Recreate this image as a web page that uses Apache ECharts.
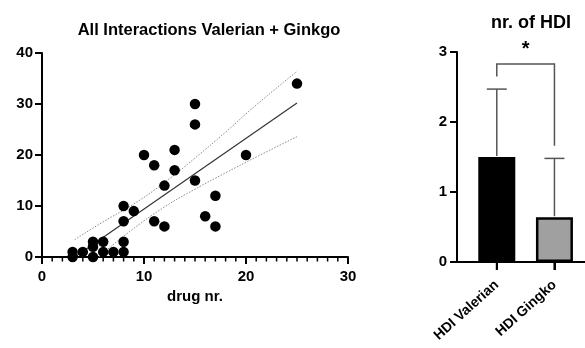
<!DOCTYPE html>
<html><head><meta charset="utf-8">
<script src="https://cdn.jsdelivr.net/npm/echarts@6/dist/echarts.min.js"></script>
<style>html,body{margin:0;padding:0;background:#fff}#c{width:585px;height:348px}</style>
</head><body><div id="c"></div>
<script>
// Scatter data (drug nr., interactions)
const drugNr = [3,3,4,5,5,5,6,6,7,8,8,8,8,9,10,11,11,12,12,13,13,15,15,15,16,17,17,20,25];
const interactions = [0,1,1,0,2,3,3,1,1,1,3,7,10,9,20,18,7,14,6,21,17,30,26,15,8,12,6,20,34];
// Regression line and confidence band
const fitX = [3, 25];
const fitY = [-0.3, 30.2];
const upperX = [3.2, 6, 9, 12, 15, 18, 21, 25];
const upperY = [3.4, 6.9, 10.4, 14.6, 19.4, 24.5, 29.8, 36.4];
const lowerX = [5.6, 6, 9, 12, 15, 18, 21, 25];
const lowerY = [0, 0.8, 5.6, 9.8, 13.3, 16.5, 19.6, 23.6];
// Axis tick values
const scatterXTicks = [0,1,2,3,4,5,6,7,8,9,10,11,12,13,14,15,16,17,18,19,20,21,22,23,24,25,26,27,28,29,30];
const scatterYTicks = [0, 10, 20, 30, 40];
const barYTicks = [0, 1, 2, 3];
// Bar data
const categories = ['HDI Valerian', 'HDI Gingko'];
const means = [1.5, 0.64];
const sds = [0.97, 0.84];
const barColors = ['#000000', '#a0a0a0'];
const bracketLevels = [2.65, 2.83, 1.66];
const starLevel = 3.03;

const FONT = 'Liberation Sans, Arial, sans-serif';
const zip = (a, b) => a.map((v, i) => [v, b[i]]);
const labelStyle = {fontFamily: FONT, fontWeight: 'bold', fontSize: 15, color: '#000'};
const tickStyle = (len) => ({show: true, length: len, lineStyle: {color: '#000', width: 2}});

// ticks placed through the axis scales (drawn on top so they are never hidden)
function tickSeries(gridIdx, values, dir, lenFn, widthFn) {
  const xMin = gridIdx === 0 ? 0 : -0.69;
  return {
    type: 'custom', xAxisIndex: gridIdx, yAxisIndex: gridIdx, z: 10, silent: true, clip: false,
    data: values.map(v => [v]),
    renderItem: (params, api) => {
      const v = api.value(0);
      const p = dir === 'x' ? api.coord([v, 0]) : api.coord([xMin, v]);
      const len = lenFn(v);
      const shape = dir === 'x'
        ? {x1: p[0], y1: p[1], x2: p[0], y2: p[1] + len}
        : {x1: p[0] - len, y1: p[1], x2: p[0], y2: p[1]};
      return {type: 'line', shape: shape, style: {stroke: '#000', lineWidth: widthFn(v)}};
    }
  };
}

const chart = echarts.init(document.getElementById('c'));
chart.setOption({
  animation: false,
  title: [
    {text: 'All Interactions Valerian + Ginkgo', left: 204, top: 17, textAlign: 'center',
     textStyle: {fontFamily: FONT, fontWeight: 'bold', fontSize: 16.5, color: '#000'}},
    {text: 'nr. of HDI', left: 526, top: 9, textAlign: 'center',
     textStyle: {fontFamily: FONT, fontWeight: 'bold', fontSize: 18, color: '#000'}}
  ],
  grid: [
    {left: 42, right: 237, top: 53, bottom: 91},
    {left: 457, right: 0, top: 52, bottom: 86}
  ],
  xAxis: [
    {gridIndex: 0, type: 'value', min: 0, max: 30, interval: 10,
     name: 'drug nr.', nameLocation: 'middle', nameGap: 31,
     nameTextStyle: {fontFamily: FONT, fontWeight: 'bold', fontSize: 15, color: '#000'},
     axisLine: {show: true, lineStyle: {color: '#000', width: 2}},
     axisTick: tickStyle(7),
     axisLabel: Object.assign({margin: 12}, labelStyle),
     splitLine: {show: false}},
    {gridIndex: 1, type: 'value', min: -0.69, max: 1.53,
     axisLine: {show: true, onZero: false, lineStyle: {color: '#000', width: 2}},
     axisTick: Object.assign(tickStyle(8), {customValues: [0, 1]}),
     axisLabel: {fontFamily: FONT, fontWeight: 'bold', fontSize: 14, color: '#000', rotate: 42, margin: 21,
                 customValues: [0, 1], formatter: v => categories[Math.round(v)] || ''},
     splitLine: {show: false}}
  ],
  yAxis: [
    {gridIndex: 0, type: 'value', min: 0, max: 40, interval: 10,
     axisLine: {show: true, lineStyle: {color: '#000', width: 2}},
     axisTick: tickStyle(7),
     axisLabel: Object.assign({margin: 9}, labelStyle),
     splitLine: {show: false}},
    {gridIndex: 1, type: 'value', min: 0, max: 3, interval: 1,
     axisLine: {show: true, onZero: false, lineStyle: {color: '#000', width: 2}},
     axisTick: tickStyle(7),
     axisLabel: Object.assign({margin: 10}, labelStyle),
     splitLine: {show: false}}
  ],
  series: [
    tickSeries(0, scatterXTicks, 'x', v => (v % 10 === 0 ? 7 : 4.5), v => (v % 10 === 0 ? 2 : 1.5)),
    tickSeries(0, scatterYTicks, 'y', () => 7, () => 2),
    tickSeries(1, barYTicks, 'y', () => 7, () => 2),
    tickSeries(1, [0, 1], 'x', () => 8, () => 2),
    {type: 'line', xAxisIndex: 0, yAxisIndex: 0, data: zip(upperX, upperY), smooth: true,
     symbol: 'none', lineStyle: {color: '#8a8a8a', width: 1, type: [1.5, 1.5]}, z: 3},
    {type: 'line', xAxisIndex: 0, yAxisIndex: 0, data: zip(lowerX, lowerY), smooth: true,
     symbol: 'none', lineStyle: {color: '#8a8a8a', width: 1, type: [1.5, 1.5]}, z: 3},
    {type: 'line', xAxisIndex: 0, yAxisIndex: 0, data: zip(fitX, fitY),
     symbol: 'none', lineStyle: {color: '#333', width: 1.2}, z: 4},
    {type: 'scatter', xAxisIndex: 0, yAxisIndex: 0, data: zip(drugNr, interactions),
     symbol: 'circle', symbolSize: 10.5, itemStyle: {color: '#000', opacity: 1}, z: 5},
    {type: 'bar', xAxisIndex: 1, yAxisIndex: 1, barWidth: 37,
     data: means.map((m, i) => ({value: [i, m], itemStyle: {color: barColors[i]}})),
     itemStyle: {borderColor: '#000', borderWidth: 2.5}, z: 3},
    {type: 'custom', xAxisIndex: 1, yAxisIndex: 1, z: 4,
     data: means.map((m, i) => [i, m, m + sds[i]]),
     renderItem: (params, api) => {
       const lo = api.coord([api.value(0), api.value(1)]);
       const hi = api.coord([api.value(0), api.value(2)]);
       const s = {stroke: '#555', lineWidth: 1.5};
       return {type: 'group', children: [
         {type: 'line', shape: {x1: hi[0], y1: lo[1] - 1, x2: hi[0], y2: hi[1]}, style: s},
         {type: 'line', shape: {x1: hi[0] - 10, y1: hi[1], x2: hi[0] + 10, y2: hi[1]}, style: s}
       ]};
     }},
    {type: 'custom', xAxisIndex: 1, yAxisIndex: 1, z: 4,
     data: [[0, 1]],
     renderItem: (params, api) => {
       const a = api.coord([api.value(0), bracketLevels[0]]);
       const b = api.coord([api.value(0), bracketLevels[1]]);
       const c = api.coord([api.value(1), bracketLevels[1]]);
       const d = api.coord([api.value(1), bracketLevels[2]]);
       const st = api.coord([(api.value(0) + api.value(1)) / 2, starLevel]);
       return {type: 'group', children: [
         {type: 'polyline', shape: {points: [a, b, c, d]}, style: {stroke: '#555', lineWidth: 1.5, fill: null}},
         {type: 'text', x: st[0], y: st[1], style: {text: '*', fontFamily: FONT, fontWeight: 'bold', fontSize: 20,
           fill: '#000', align: 'center', verticalAlign: 'middle'}}
       ]};
     }}
  ]
});
</script></body></html>
